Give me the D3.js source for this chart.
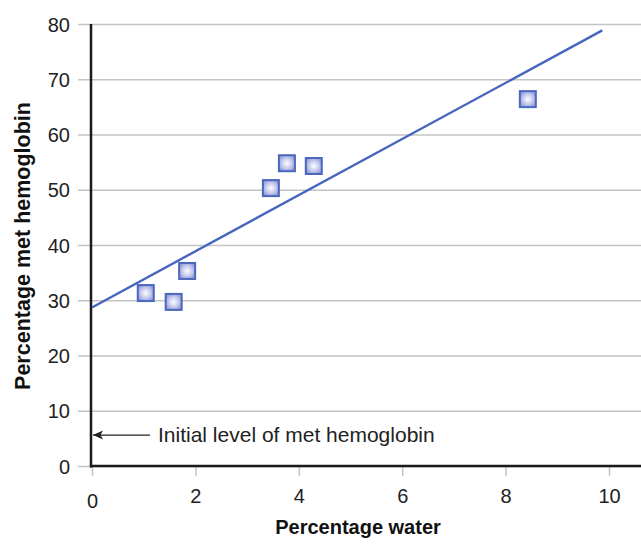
<!DOCTYPE html>
<html>
<head>
<meta charset="utf-8">
<script src="https://cdn.jsdelivr.net/npm/d3@7"></script>
<style>
  html, body { margin: 0; padding: 0; background: #fff; }
  svg { display: block; }
  text { font-family: "Liberation Sans", Arial, sans-serif; }
</style>
</head>
<body>
<svg id="chart" width="641" height="544"></svg>
<script>
// Measurements: percentage water vs percentage met hemoglobin
const waterPct = [1.04, 1.58, 1.84, 3.46, 3.77, 4.29, 8.43];
const metHbPct = [31.3, 29.7, 35.3, 50.3, 54.8, 54.3, 66.4];

// Fitted line (intercept = initial level of met hemoglobin)
const fitIntercept = 28.7;
const fitSlope = 5.08;
const fitRange = [0, 9.87];

const xTicks = [0, 2, 4, 6, 8, 10];
const yTicks = [0, 10, 20, 30, 40, 50, 60, 70, 80];
const initialLevel = 5.6; // arrow drawn at this height beside the axis

const svg = d3.select("#chart");
const W = 641;

const x = d3.scaleLinear().domain([0, 10]).range([92, 609]);
const y = d3.scaleLinear().domain([0, 80]).range([466, 24]);

// gradient for the square markers
const defs = svg.append("defs");
const grad = defs.append("radialGradient").attr("id", "markerFill")
  .attr("cx", "50%").attr("cy", "50%").attr("r", "60%");
grad.append("stop").attr("offset", "0%").attr("stop-color", "#ffffff");
grad.append("stop").attr("offset", "55%").attr("stop-color", "#c3c8ed");
grad.append("stop").attr("offset", "100%").attr("stop-color", "#8893d6");

defs.append("marker").attr("id", "arrowHead")
  .attr("viewBox", "0 0 10 10").attr("refX", 10).attr("refY", 5)
  .attr("markerWidth", 12).attr("markerHeight", 10)
  .attr("markerUnits", "userSpaceOnUse")
  .attr("orient", "auto")
  .append("path").attr("d", "M0,0.5 L10,5 L0,9.5 L2.5,5 Z").attr("fill", "#222");

// horizontal gridlines, extending left as ticks
const gridAxis = d3.axisLeft(y).tickValues(yTicks)
  .tickSize(-(W - 78)).tickFormat(d => d);
const gy = svg.append("g").attr("transform", "translate(78,0)").call(gridAxis)
  .attr("font-size", null).attr("font-family", null);
gy.select(".domain").remove();
gy.selectAll(".tick line").attr("stroke", "#c4c4c4").attr("stroke-width", 1.5);
gy.selectAll(".tick text").style("font-size", "20px").attr("fill", "#222")
  .attr("x", -8).attr("dy", "0.36em");

// x axis ticks (grey, below the baseline)
const xAxis = d3.axisBottom(x).tickValues(xTicks).tickSize(10);
const gx = svg.append("g").attr("transform", "translate(0,466)").call(xAxis)
  .attr("font-size", null).attr("font-family", null);
gx.select(".domain").remove();
gx.selectAll(".tick line").attr("stroke", "#c4c4c4").attr("stroke-width", 1.5);
gx.selectAll(".tick text").style("font-size", "20px").attr("fill", "#222")
  .attr("dy", null).attr("y", d => d === 0 ? 42 : 37);

// axis lines
svg.append("line").attr("x1", 91).attr("x2", 91).attr("y1", y(80)).attr("y2", y(0) + 1.5)
  .attr("stroke", "#1a1a1a").attr("stroke-width", 2.5);
svg.append("line").attr("x1", 90).attr("x2", W).attr("y1", y(0)).attr("y2", y(0))
  .attr("stroke", "#1a1a1a").attr("stroke-width", 2.5);

// fitted line
svg.append("line")
  .attr("x1", x(fitRange[0])).attr("y1", y(fitIntercept + fitSlope * fitRange[0]))
  .attr("x2", x(fitRange[1])).attr("y2", y(fitIntercept + fitSlope * fitRange[1]))
  .attr("stroke", "#4665be").attr("stroke-width", 2.4);

// data markers
const s = 16;
svg.append("g").selectAll("rect")
  .data(waterPct.map((d, i) => [d, metHbPct[i]]))
  .join("rect")
  .attr("x", d => x(d[0]) - s / 2).attr("y", d => y(d[1]) - s / 2)
  .attr("width", s).attr("height", s)
  .attr("fill", "url(#markerFill)")
  .attr("stroke", "#4b68bd").attr("stroke-width", 2);

// annotation arrow
svg.append("line").attr("x1", 150).attr("x2", 93)
  .attr("y1", y(initialLevel)).attr("y2", y(initialLevel))
  .attr("stroke", "#222").attr("stroke-width", 1.3)
  .attr("marker-end", "url(#arrowHead)");
svg.append("text").attr("x", 158).attr("y", y(initialLevel) + 7)
  .style("font-size", "21px").attr("fill", "#222")
  .text("Initial level of met hemoglobin");

// axis titles
svg.append("text").attr("x", 358).attr("y", 534).attr("text-anchor", "middle")
  .style("font-size", "20px").attr("font-weight", "bold").attr("fill", "#111")
  .text("Percentage water");
svg.append("text").attr("transform", "translate(30,246) rotate(-90)")
  .attr("text-anchor", "middle")
  .style("font-size", "21.5px").attr("font-weight", "bold").attr("fill", "#111")
  .text("Percentage met hemoglobin");
</script>
</body>
</html>
